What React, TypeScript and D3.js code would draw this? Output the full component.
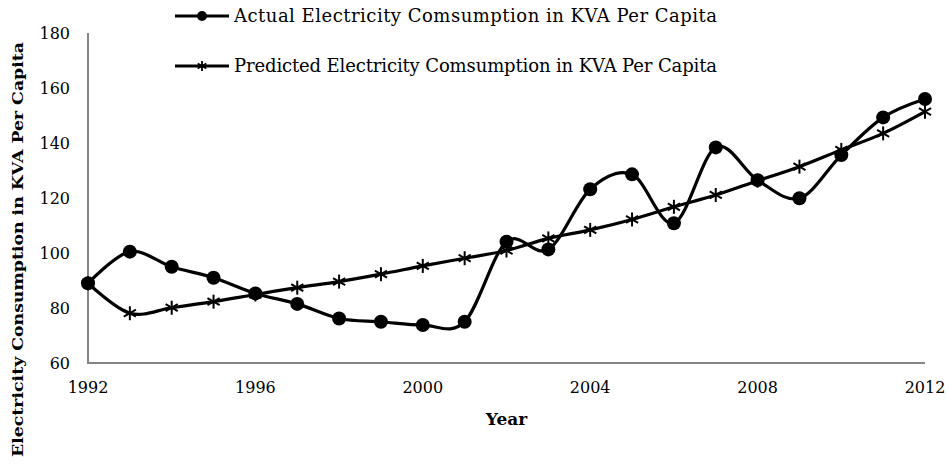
import * as React from 'react';
import * as d3 from 'd3';

const years = d3.range(1992, 2013);

const actual = [
  89.0, 100.5, 95.0, 91.0, 85.3, 81.5, 76.2, 75.0, 73.8, 75.0, 104.1,
  101.3, 123.2, 128.6, 110.8, 138.4, 126.5, 119.9, 135.6, 149.3, 156.0,
];
const predicted = [
  89.0, 78.1, 80.1, 82.3, 84.9, 87.4, 89.6, 92.3, 95.3, 98.1, 100.9,
  105.3, 108.4, 112.2, 116.8, 121.1, 126.3, 131.4, 137.5, 143.5, 151.4,
];

const yTicks = [60, 80, 100, 120, 140, 160, 180];
const xTicks = [1992, 1996, 2000, 2004, 2008, 2012];

const seriesNames = [
  'Actual Electricity Comsumption in KVA Per Capita',
  'Predicted Electricity Comsumption in KVA Per Capita',
];

const WIDTH = 948;
const HEIGHT = 464;
const margin = { top: 33, right: 23, bottom: 101, left: 88 };
const FONT = '"DejaVu Serif", serif';
const AXIS_COLOR = '#868686';

function Star({ x, y, r, sw }: { x: number; y: number; r: number; sw: number }) {
  const d = r * Math.cos(Math.PI / 6);
  const h = r * Math.sin(Math.PI / 6);
  return (
    <g stroke="#000" strokeWidth={sw}>
      <line x1={x} y1={y - r} x2={x} y2={y + r} />
      <line x1={x - d} y1={y - h} x2={x + d} y2={y + h} />
      <line x1={x - d} y1={y + h} x2={x + d} y2={y - h} />
    </g>
  );
}

export default function App() {
  const x = d3
    .scaleLinear()
    .domain([1992, 2012])
    .range([margin.left, WIDTH - margin.right]);
  const y = d3
    .scaleLinear()
    .domain([60, 180])
    .range([HEIGHT - margin.bottom, margin.top]);

  const line = d3
    .line<number>()
    .x((_, i) => x(years[i]))
    .y((d) => y(d))
    .curve(d3.curveCardinal.tension(0));

  const x0 = x.range()[0];
  const x1 = x.range()[1];
  const yBottom = y.range()[0];
  const yTop = y.range()[1];

  return (
    <svg
      width={WIDTH}
      height={HEIGHT}
      style={{ position: 'absolute', left: 0, top: 0, background: '#fff' }}
      fontFamily={FONT}
    >
      {/* axes */}
      <line x1={x0} y1={yTop} x2={x0} y2={yBottom} stroke={AXIS_COLOR} strokeWidth={2} />
      <line x1={x0 - 1} y1={yBottom} x2={x1} y2={yBottom} stroke={AXIS_COLOR} strokeWidth={2} />

      {yTicks.map((t) => (
        <text
          key={t}
          x={x0 - 18}
          y={y(t)}
          dy="0.35em"
          textAnchor="end"
          fontSize={16}
          fill="#000"
        >
          {t}
        </text>
      ))}
      {xTicks.map((t) => (
        <text
          key={t}
          x={x(t)}
          y={yBottom + 24}
          dy="0.35em"
          textAnchor="middle"
          fontSize={16}
          fill="#000"
        >
          {t}
        </text>
      ))}

      {/* titles */}
      <text
        x={(x0 + x1) / 2}
        y={419}
        dy="0.35em"
        textAnchor="middle"
        fontSize={17}
        fontWeight="bold"
      >
        Year
      </text>
      <text
        transform={`translate(18,${249.5}) rotate(-90)`}
        dy="0.35em"
        textAnchor="middle"
        fontSize={15.5}
        fontWeight="bold"
        textLength={415}
        lengthAdjust="spacingAndGlyphs"
      >
        Electricity Consumption in KVA Per Capita
      </text>

      {/* series */}
      <path d={line(actual) || ''} fill="none" stroke="#000" strokeWidth={3.2} />
      <path d={line(predicted) || ''} fill="none" stroke="#000" strokeWidth={3.2} />
      {actual.map((v, i) => (
        <circle key={'a' + i} cx={x(years[i])} cy={y(v)} r={7} fill="#000" />
      ))}
      {predicted.map((v, i) => (
        <Star key={'p' + i} x={x(years[i])} y={y(v)} r={7} sw={2} />
      ))}

      {/* legend */}
      {seriesNames.map((name, i) => {
        const ly = 16 + i * 50;
        return (
          <g key={name}>
            <line x1={175} y1={ly} x2={229} y2={ly} stroke="#000" strokeWidth={3} />
            {i === 0 ? (
              <circle cx={202} cy={ly} r={5} fill="#000" />
            ) : (
              <Star x={202} y={ly} r={5} sw={1.8} />
            )}
            <text
              x={234}
              y={ly}
              dy="0.35em"
              fontSize={18}
              textLength={483}
              lengthAdjust="spacing"
            >
              {name}
            </text>
          </g>
        );
      })}
    </svg>
  );
}
